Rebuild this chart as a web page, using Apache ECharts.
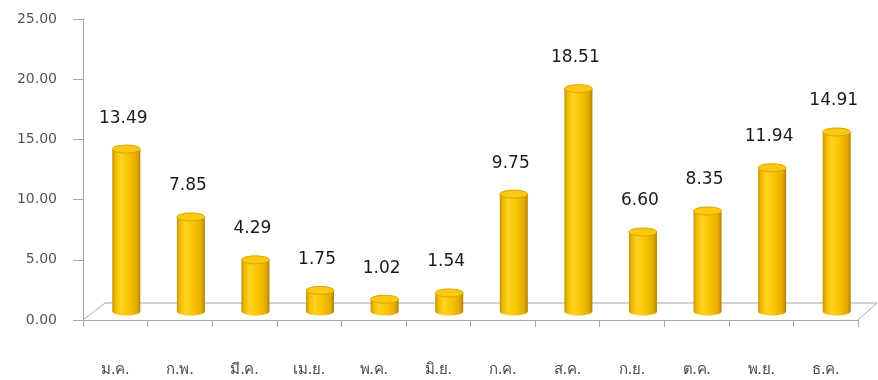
<!DOCTYPE html>
<html>
<head>
<meta charset="utf-8">
<script src="https://cdn.jsdelivr.net/npm/echarts@6/dist/echarts.min.js"></script>
<style>html,body{margin:0;padding:0;background:#fff;}#c{width:878px;height:380px;}</style>
</head>
<body>
<div id="c"></div>
<script>
const months = ['ม.ค.','ก.พ.','มี.ค.','เม.ย.','พ.ค.','มิ.ย.','ก.ค.','ส.ค.','ก.ย.','ต.ค.','พ.ย.','ธ.ค.'];
const values = [13.49, 7.85, 4.29, 1.75, 1.02, 1.54, 9.75, 18.51, 6.60, 8.35, 11.94, 14.91];
const yMin = 0, yMax = 25, yStep = 5;

const chart = echarts.init(document.getElementById('c'), null, {renderer: 'canvas'});
const axisGray = '#a6a6a6';
const thaiFont = 'Tahoma, "Noto Sans", "DejaVu Sans", sans-serif';

function cylGradient() {
  return new echarts.graphic.LinearGradient(0, 0, 1, 0, [
    {offset: 0, color: '#c39200'},
    {offset: 0.1, color: '#eeb800'},
    {offset: 0.3, color: '#ffd220'},
    {offset: 0.6, color: '#f8c400'},
    {offset: 0.88, color: '#e2a900'},
    {offset: 1, color: '#b08000'}
  ]);
}

chart.setOption({
  animation: false,
  grid: {left: 83, right: 20, top: 19, bottom: 60, containLabel: false},
  xAxis: {
    type: 'category',
    data: months,
    boundaryGap: true,
    axisLine: {show: true, lineStyle: {color: axisGray, width: 1}},
    axisTick: {show: true, length: 7, lineStyle: {color: axisGray}},
    axisLabel: {margin: 42, fontSize: 15, color: '#4a4a4a', fontFamily: thaiFont}
  },
  yAxis: {
    type: 'value',
    min: yMin, max: yMax, interval: yStep,
    axisLine: {show: true, lineStyle: {color: axisGray, width: 1}},
    axisTick: {show: true, length: 10, lineStyle: {color: axisGray}},
    splitLine: {show: false},
    axisLabel: {margin: 26, fontSize: 14, color: '#555555', fontFamily: 'Tahoma, "DejaVu Sans", sans-serif',
      formatter: v => v.toFixed(2)}
  },
  series: [
    {
      type: 'custom',
      z: 1,
      silent: true,
      data: [[0, 0]],
      renderItem: function (params, api) {
        const cs = params.coordSys;
        const x0 = cs.x, y0 = cs.y + cs.height, x1 = cs.x + cs.width;
        return {
          type: 'polyline',
          shape: {points: [[x0, y0], [x0 + 22, y0 - 17], [x1 + 19, y0 - 17], [x1, y0]]},
          style: {stroke: axisGray, fill: null, lineWidth: 1}
        };
      }
    },
    {
      type: 'custom',
      z: 3,
      data: values.map((v, i) => [i, v]),
      renderItem: function (params, api) {
        const i = api.value(0), v = api.value(1);
        const top = api.coord([i, v]);
        const base = api.coord([i, 0]);
        const dx = 11, dy = -8.5, rx = 14, ry = 4;
        const cx = top[0] + dx, ty = top[1] + dy, by = base[1] + dy;
        return {
          type: 'group',
          children: [
            {type: 'ellipse', shape: {cx: cx, cy: by, rx: rx, ry: ry}, style: {fill: cylGradient()}},
            {type: 'rect', shape: {x: cx - rx, y: ty, width: 2 * rx, height: by - ty}, style: {fill: cylGradient()}},
            {type: 'ellipse', shape: {cx: cx, cy: ty, rx: rx, ry: ry}, style: {fill: '#fbc812', stroke: '#d9a400', lineWidth: 1}},
            {type: 'text', style: {text: v.toFixed(2), x: cx - 3, y: ty - 31, align: 'center', verticalAlign: 'middle',
              font: '17px "DejaVu Sans", Verdana, sans-serif', fill: '#1a1a1a'}}
          ]
        };
      }
    }
  ]
});
</script>
</body>
</html>
